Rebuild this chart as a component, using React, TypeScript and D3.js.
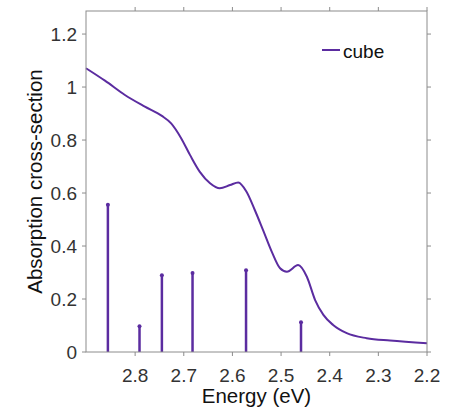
import React from "react";
import * as d3 from "d3";

const curveEnergy = [2.901, 2.862, 2.821, 2.78, 2.745, 2.726, 2.706, 2.687, 2.667, 2.646, 2.626, 2.605, 2.588, 2.571, 2.554, 2.537, 2.519, 2.502, 2.488, 2.465, 2.447, 2.43, 2.413, 2.393, 2.365, 2.324, 2.276, 2.2];
const curveValue = [1.071, 1.024, 0.97, 0.926, 0.891, 0.863, 0.809, 0.743, 0.68, 0.637, 0.618, 0.63, 0.64, 0.605, 0.536, 0.46, 0.378, 0.316, 0.303, 0.328, 0.284, 0.196, 0.14, 0.102, 0.071, 0.052, 0.043, 0.033];

const stemEnergy = [2.856, 2.791, 2.745, 2.682, 2.572, 2.459];
const stemValue = [0.556, 0.097, 0.29, 0.298, 0.309, 0.112];

const xTicks = [2.8, 2.7, 2.6, 2.5, 2.4, 2.3, 2.2];
const yTicks = [0, 0.2, 0.4, 0.6, 0.8, 1, 1.2];

const seriesName = "cube";
const xLabel = "Energy (eV)";
const yLabel = "Absorption cross-section";

export default function App() {
  const W = 450, H = 413;
  const L = 86, R = 427, T = 11, B = 352;
  const x = d3.scaleLinear().domain([2.901, 2.2]).range([L, R]);
  const y = d3.scaleLinear().domain([0, 1.287]).range([B, T]);
  const color = "#5b2ca0";
  const axisColor = "#8c8c8c";
  const textColor = "#333";
  const font = "'Liberation Sans', Arial, sans-serif";
  const pts = curveEnergy.map((e, i) => [e, curveValue[i]] as [number, number]);
  const line = d3.line<[number, number]>().x(d => x(d[0])).y(d => y(d[1])).curve(d3.curveMonotoneX);
  const tk = 4;
  return (
    <svg width={W} height={H} style={{ position: "absolute", left: 0, top: 0, background: "#fff" }} fontFamily={font}>
      <rect x={0} y={0} width={W} height={H} fill="#fff" />
      {stemEnergy.map((e, i) => (
        <g key={"s" + i}>
          <line x1={x(e)} x2={x(e)} y1={y(0)} y2={y(stemValue[i])} stroke={color} strokeWidth={2.5} />
          <circle cx={x(e)} cy={y(stemValue[i])} r={2} fill={color} />
        </g>
      ))}
      <path d={line(pts) || ""} fill="none" stroke={color} strokeWidth={2} />
      <rect x={L} y={T} width={R - L} height={B - T} fill="none" stroke={axisColor} strokeWidth={1} />
      {xTicks.map(t => (
        <g key={"x" + t}>
          <line x1={x(t)} x2={x(t)} y1={B} y2={B + tk} stroke={axisColor} />
          <line x1={x(t)} x2={x(t)} y1={T} y2={T - tk} stroke={axisColor} />
          <text x={x(t)} y={382} textAnchor="middle" fontSize={19} fill={textColor}>{d3.format(".1f")(t)}</text>
        </g>
      ))}
      {yTicks.map(t => (
        <g key={"y" + t}>
          <line x1={L} x2={L - tk} y1={y(t)} y2={y(t)} stroke={axisColor} />
          <line x1={R} x2={R + tk} y1={y(t)} y2={y(t)} stroke={axisColor} />
          <text x={77} y={y(t) + 7} textAnchor="end" fontSize={19} fill={textColor}>{t === 0 || t === 1 ? String(t) : d3.format(".1f")(t)}</text>
        </g>
      ))}
      <text x={(L + R) / 2} y={403} textAnchor="middle" fontSize={20.5} fill="#111">{xLabel}</text>
      <text transform={`translate(42, ${(T + B) / 2}) rotate(-90)`} textAnchor="middle" fontSize={20.5} fill="#111">{yLabel}</text>
      <line x1={322} x2={340} y1={50} y2={50} stroke={color} strokeWidth={2} />
      <text x={343} y={58} fontSize={19} fill="#111">{seriesName}</text>
    </svg>
  );
}
